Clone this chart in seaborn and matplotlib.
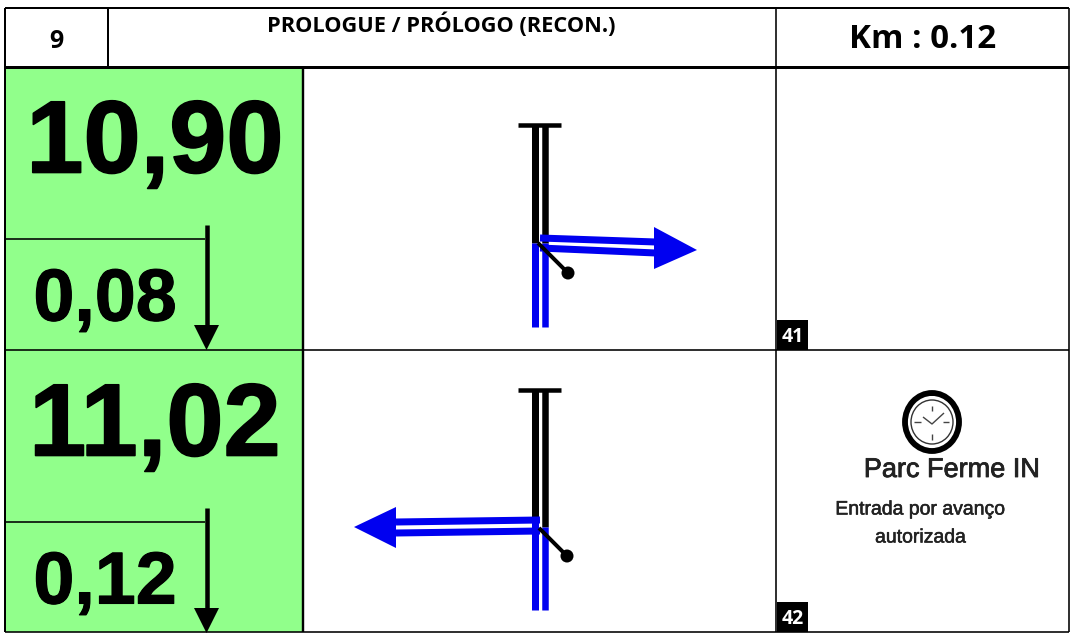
import matplotlib
matplotlib.use('Agg')
import matplotlib.pyplot as plt
import matplotlib.patheffects as pe
from matplotlib.patches import Ellipse, Rectangle
import seaborn as sns

GREEN = '#91ff8b'
BLUE = '#0000f0'

# table text
step_no = '9'
title = 'PROLOGUE / PRÓLOGO (RECON.)'
km_label = 'Km : 0.12'
total_labels = ['10,90', '11,02']
partial_labels = ['0,08', '0,12']
badge_labels = ['41', '42']
row_tops = [67, 350]
row_bottoms = [350, 632]

# table rules: (x0, x1, y0, y1, width in px)
rules = [
    (5, 1069, 8, 8, 2), (5, 1069, 67, 67, 3), (5, 1069, 350, 350, 1.6), (5, 1069, 632, 632, 1.6),
    (5, 5, 8, 632, 2), (1069, 1069, 8, 632, 1.6), (108, 108, 8, 67, 2),
    (303, 303, 67, 632, 2.4), (776, 776, 8, 632, 1.6),
]

# road drawings, pixel paths
black_roads = [
    ([518, 561], [125, 125], 4.5), ([534.5, 534.5], [125, 243], 7), ([545, 545], [125, 243], 6.5),
    ([518, 561], [390, 390], 4.5), ([535, 535], [390, 518], 7), ([545, 545], [390, 527], 6.5),
]
blue_roads = [
    ([534.5, 534.5], [243, 327], 7), ([545, 545], [243, 327], 6.5),
    ([540, 656], [238, 242], 7), ([540, 656], [248, 253], 7),
    ([535, 535], [518, 610], 7), ([545, 545], [527, 610], 6.5),
    ([396, 540], [522, 520], 7), ([396, 540], [533, 531], 7),
]
blue_heads_x = [[654, 697, 654], [396, 354, 396]]
blue_heads_y = [[227, 250, 269], [507, 527, 548]]
stalks_x = [[538, 568], [539, 567]]
stalks_y = [[243, 273], [528, 556]]

# clock ticks and hands
clock_x, clock_y = 932, 422
clock_lines = [
    ([914, 921], [422, 422]), ([943, 949], [422, 422]), ([932, 932], [406, 411]), ([932, 932], [434, 440]),
    ([923, 932, 944], [417, 424, 413]),
]


def stroke(ax, xs, ys, color='black', width=2):
    sns.lineplot(x=xs, y=ys, ax=ax, color=color, linewidth=width * 0.72,
                 estimator=None, sort=False, legend=False, errorbar=None)


def heavy(w, color='black'):
    return [pe.withStroke(linewidth=w, foreground=color)]


sns.set_theme(style='white')
plt.rcParams['lines.solid_capstyle'] = 'butt'
plt.rcParams['font.family'] = ['Liberation Sans', 'DejaVu Sans']
plt.rcParams['text.color'] = 'black'

fig = plt.figure(figsize=(10.73, 6.33), dpi=100, facecolor='white')
ax = fig.add_axes([0, 0, 1, 1])

ax.add_patch(Rectangle((5, 67), 298, 565, facecolor=GREEN, edgecolor='none', zorder=0))

for x0, x1, y0, y1, w in rules:
    stroke(ax, [x0, x1], [y0, y1], width=w)

# header
ax.text(56, 41, step_no, fontsize=18, fontweight='bold', family='Open Sans', ha='center', va='center')
ax.text(441, 25, title, fontsize=15.7, fontweight='bold', family='Open Sans', ha='center', va='center')
ax.text(923, 39, km_label, fontsize=23.8, fontweight='bold', family='Open Sans', ha='center', va='center')

# distance cells
for top, total, partial in zip(row_tops, total_labels, partial_labels):
    ax.text(155, top + 79, total, fontsize=74, fontweight='bold', ha='center', va='center',
            path_effects=heavy(1.2))
    ax.text(105, top + 234, partial, fontsize=53, fontweight='bold', ha='center', va='center',
            path_effects=heavy(0.8))
    stroke(ax, [5, 205], [top + 172, top + 172], width=1.6)
    stroke(ax, [206.5, 206.5], [top + 158, top + 262], width=4.5)
    ax.fill([194, 219, 206.5], [top + 258, top + 258, top + 283], color='black', lw=0, zorder=3)

# road diagrams
for xs, ys, w in black_roads:
    stroke(ax, xs, ys, width=w)
for xs, ys, w in blue_roads:
    stroke(ax, xs, ys, color=BLUE, width=w)
for xs, ys in zip(blue_heads_x, blue_heads_y):
    ax.fill(xs, ys, color=BLUE, lw=0, zorder=3)
for xs, ys in zip(stalks_x, stalks_y):
    stroke(ax, xs, ys, width=4)
    ax.add_patch(Ellipse((xs[1], ys[1]), 13, 13, color='black', lw=0, zorder=4))

# number badges
for bottom, label in zip(row_bottoms, badge_labels):
    ax.add_patch(Rectangle((777, bottom - 30), 31, 30, facecolor='black', edgecolor='none', zorder=3))
    ax.text(792.5, bottom - 13, label, color='white', fontsize=14, fontweight='bold',
            family='Open Sans', ha='center', va='center', zorder=4)

# parc ferme note
ax.add_patch(Ellipse((clock_x, clock_y), 54, 58, facecolor='white', edgecolor='black', lw=4.2, zorder=2))
ax.add_patch(Ellipse((clock_x, clock_y), 42, 44, facecolor='white', edgecolor='#333333', lw=1, zorder=2))
ax.add_patch(Rectangle((clock_x - 2.5, clock_y - 31), 5, 5, color='black', lw=0, zorder=3))
for xs, ys in clock_lines:
    sns.lineplot(x=xs, y=ys, ax=ax, color='#444444', linewidth=1, estimator=None, sort=False,
                 legend=False, errorbar=None, zorder=3)
ax.text(952, 470, 'Parc Ferme IN', fontsize=19.5, color='#222222', ha='center', va='center',
        path_effects=heavy(0.6, '#222222'))
ax.text(921, 510, 'Entrada por avanço', fontsize=14, color='#222222', ha='center', va='center',
        path_effects=heavy(0.4, '#222222'))
ax.text(921, 538, 'autorizada', fontsize=14, color='#222222', ha='center', va='center',
        path_effects=heavy(0.4, '#222222'))

ax.set_xlim(0, 1073)
ax.set_ylim(633, 0)
ax.set_axis_off()

fig.savefig('out.png', dpi=100, facecolor='white')
